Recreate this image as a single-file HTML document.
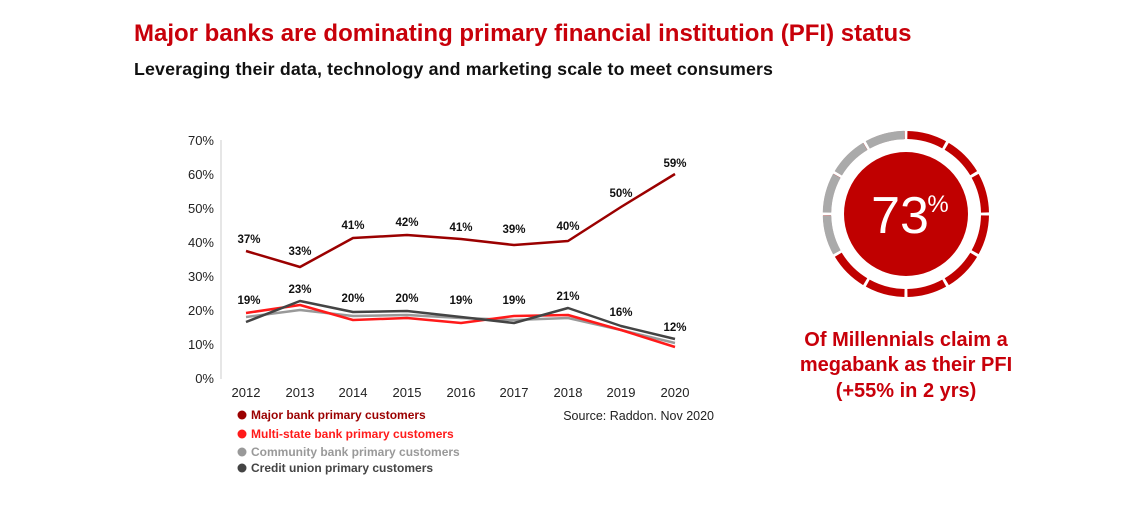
<!DOCTYPE html>
<html><head><meta charset="utf-8"><style>
body{margin:0;width:1140px;height:500px;background:#fff;overflow:hidden;font-family:"Liberation Sans",sans-serif;}
</style></head><body>
<svg width="1140" height="500" xmlns="http://www.w3.org/2000/svg" font-family="Liberation Sans, sans-serif">
<text x="134" y="41" font-size="24" font-weight="bold" fill="#c8000a">Major banks are dominating primary financial institution (PFI) status</text>
<text x="134" y="75" font-size="17.8" font-weight="bold" fill="#111" letter-spacing="0.15">Leveraging their data, technology and marketing scale to meet consumers</text>
<line x1="221" y1="140" x2="221" y2="379" stroke="#ccc" stroke-width="1"/>
<g font-size="13" fill="#222" text-anchor="end">
<text x="214" y="145">70%</text><text x="214" y="179">60%</text><text x="214" y="213">50%</text><text x="214" y="247">40%</text><text x="214" y="281">30%</text><text x="214" y="315">20%</text><text x="214" y="349">10%</text><text x="214" y="383">0%</text>
</g>
<g font-size="13" fill="#222" text-anchor="middle">
<text x="246" y="397">2012</text><text x="300" y="397">2013</text><text x="353" y="397">2014</text><text x="407" y="397">2015</text><text x="461" y="397">2016</text><text x="514" y="397">2017</text><text x="568" y="397">2018</text><text x="621" y="397">2019</text><text x="675" y="397">2020</text>
</g>
<g fill="none" stroke-width="2.5" stroke-linejoin="round">
<polyline stroke="#999" points="246,317 300,310 353,316 407,315 461,318 514,320 568,318 621,330 675,343"/>
<polyline stroke="#ff1a1a" points="246,313 300,305 353,320 407,318 461,323 514,316 568,315 621,330 675,347"/>
<polyline stroke="#444" points="246,322 300,301 353,312 407,311 461,317 514,323 568,308 621,326 675,339"/>
<polyline stroke="#9b0000" points="246,251 300,267 353,238 407,235 461,239 514,245 568,241 621,207 675,174"/>
</g>
<g font-size="11.5" font-weight="bold" fill="#111" text-anchor="middle">
<text x="249" y="243">37%</text><text x="300" y="255">33%</text><text x="353" y="229">41%</text><text x="407" y="226">42%</text><text x="461" y="231">41%</text><text x="514" y="233">39%</text><text x="568" y="230">40%</text><text x="621" y="197">50%</text><text x="675" y="167">59%</text>
<text x="249" y="304">19%</text><text x="300" y="293">23%</text><text x="353" y="302">20%</text><text x="407" y="302">20%</text><text x="461" y="304">19%</text><text x="514" y="304">19%</text><text x="568" y="300">21%</text><text x="621" y="316">16%</text><text x="675" y="331">12%</text>
</g>
<g font-size="12" font-weight="bold">
<circle cx="242" cy="415" r="4.5" fill="#9b0000"/><text x="251" y="419" fill="#9b0000">Major bank primary customers</text>
<circle cx="242" cy="434" r="4.5" fill="#ff1a1a"/><text x="251" y="438" fill="#ff1a1a">Multi-state bank primary customers</text>
<circle cx="242" cy="452" r="4.5" fill="#999"/><text x="251" y="456" fill="#999">Community bank primary customers</text>
<circle cx="242" cy="468" r="4.5" fill="#444"/><text x="251" y="472" fill="#444">Credit union primary customers</text>
</g>
<text x="714" y="420" font-size="12.5" fill="#222" text-anchor="end">Source: Raddon. Nov 2020</text>
<g transform="translate(906,214)">
<circle r="79" fill="none" stroke="#c00000" stroke-width="8" stroke-dasharray="38.4 2.97" transform="rotate(-89)"/>
<circle r="79" fill="none" stroke="#aaa" stroke-width="8.5" stroke-dasharray="38.4 2.97 38.4 2.97 38.4 2.97 38.4 1000" transform="rotate(151)"/>
<circle r="62" fill="#c00000"/>
<text x="-6" y="19" font-size="52" fill="#fff" text-anchor="middle">73</text>
<text x="32" y="-2" font-size="24" fill="#fff" text-anchor="middle">%</text>
</g>
<g font-size="20" font-weight="bold" fill="#c8000a" text-anchor="middle">
<text x="906" y="346">Of Millennials claim a</text>
<text x="906" y="371">megabank as their PFI</text>
<text x="906" y="397">(+55% in 2 yrs)</text>
</g>
</svg>
</body></html>
